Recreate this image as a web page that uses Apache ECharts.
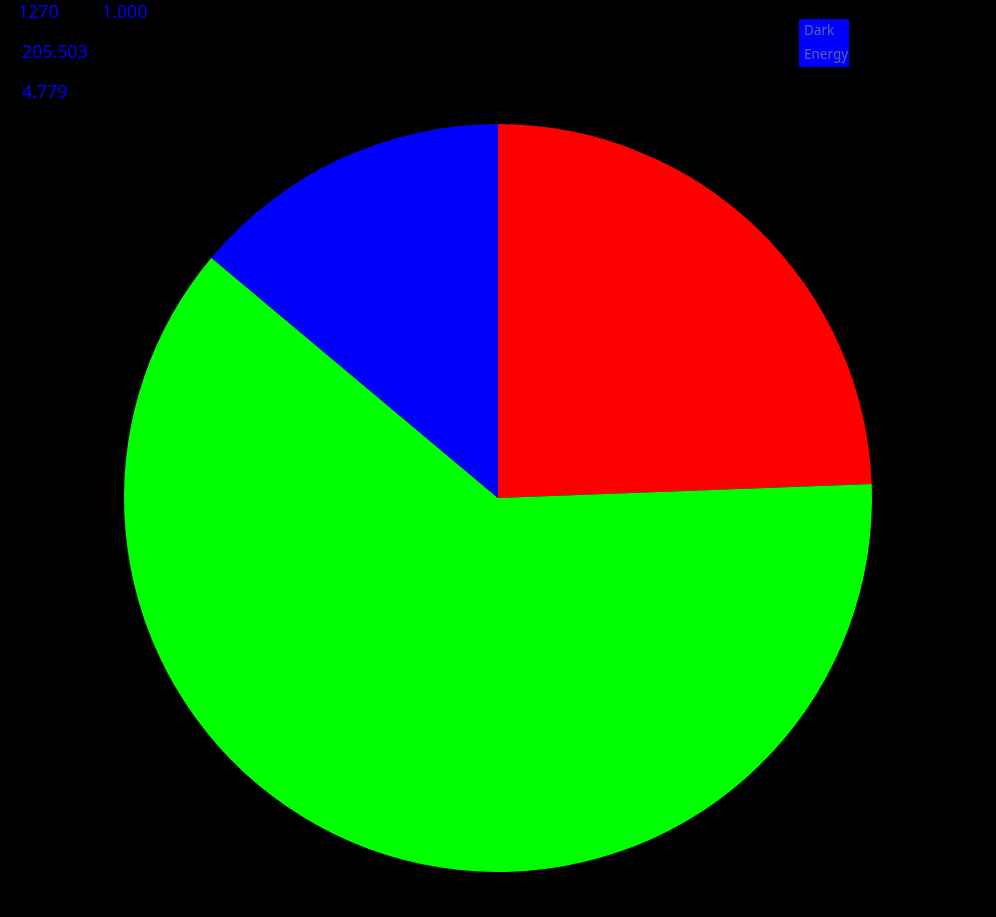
<!DOCTYPE html>
<html>
<head>
<meta charset="utf-8">
<script src="https://cdn.jsdelivr.net/npm/echarts@6/dist/echarts.min.js"></script>
<style>html,body{margin:0;padding:0;background:#000;}#c{width:996px;height:917px;}</style>
</head>
<body>
<div id="c"></div>
<script>
const categories = ['Matter', 'Radiation', 'Dark Energy'];
const values = [24.4, 61.7, 13.9];
const colors = ['#ff0000', '#00ff00', '#0000ff'];
const infoTexts = ['1270', '1.000', '205.503', '4.779'];
const legendItems = ['Dark Energy'];

const chart = echarts.init(document.getElementById('c'));
const font = 'Noto Sans';
const titleStyle = {color: '#0000ff', fontSize: 17.8, fontWeight: 'normal', fontFamily: font, lineHeight: 20};
chart.setOption({
  backgroundColor: '#000000',
  animation: false,
  title: [
    {text: infoTexts[0], left: 18, top: 3, padding: 0, textStyle: titleStyle},
    {text: infoTexts[1], left: 102, top: 3, padding: 0, textStyle: titleStyle},
    {text: infoTexts[2], left: 22, top: 43, padding: 0, textStyle: titleStyle},
    {text: infoTexts[3], left: 22, top: 83, padding: 0, textStyle: titleStyle}
  ],
  legend: {
    data: legendItems,
    left: 799, top: 19,
    backgroundColor: '#0000ff',
    padding: [0, 1, 0, 0],
    icon: 'none',
    itemWidth: 0, itemHeight: 0, itemGap: 0,
    selectedMode: false,
    formatter: (n) => n.replace(' ', '\n'),
    textStyle: {color: '#60609a', fontSize: 13.5, lineHeight: 24, fontFamily: font, padding: 0}
  },
  series: [{
    type: 'pie',
    center: [498, 498],
    radius: 374,
    startAngle: 90,
    clockwise: true,
    label: {show: false},
    labelLine: {show: false},
    itemStyle: {borderWidth: 0},
    emphasis: {disabled: true},
    data: categories.map((c, i) => ({name: c, value: values[i], itemStyle: {color: colors[i]}}))
  }]
});
</script>
</body>
</html>
